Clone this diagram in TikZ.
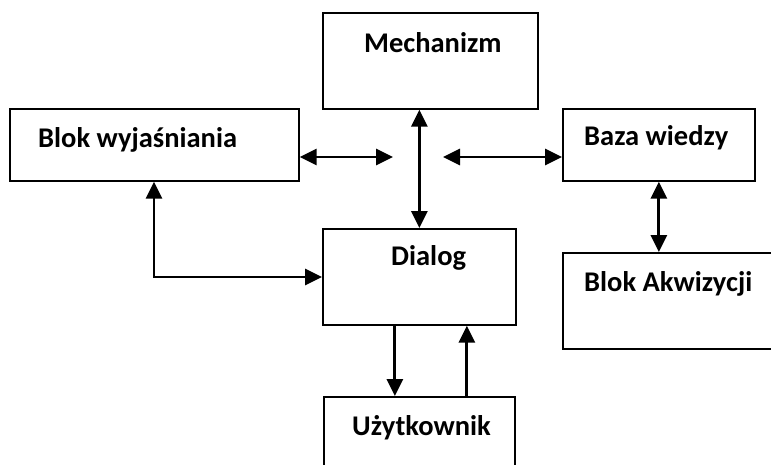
\documentclass[tikz,border=0pt]{standalone}
\usepackage{fontspec}
\setmainfont{Carlito}
\usetikzlibrary{arrows.meta}
\begin{document}
\begin{tikzpicture}[x=1pt,y=-1pt,
  block/.style={draw=black,line width=1.7pt,fill=none,inner sep=0pt,anchor=north west},
  caption/.style={inner sep=0pt,anchor=base west,font=\fontsize{28.5}{34}\selectfont\bfseries},
  tip/.tip={Triangle[length=17pt,width=16pt]},
  link/.style={line width=2.8pt,-tip},
  dlink/.style={line width=2.8pt,tip-tip}]
\clip (0,0) rectangle (771,464);
\fill[white] (0,0) rectangle (771,464);

% boxes
\node[block,minimum width=215pt,minimum height=96pt] (mech) at (322,12) {};
\node[block,minimum width=289pt,minimum height=72pt] (bw) at (9,108) {};
\node[block,minimum width=192pt,minimum height=72pt] (baza) at (562,108) {};
\node[block,minimum width=193pt,minimum height=96pt] (dlg) at (322,228) {};
\node[block,minimum width=230pt,minimum height=96pt] (akw) at (562,252) {};
\node[block,minimum width=191pt,minimum height=90pt] (user) at (323,396) {};

% captions
\node[caption] (tmech) at (364,52) {Mechanizm};
\node[caption] (tbw) at (38,147) {Blok wyjaśniania};
\node[caption] (tbaza) at (584,145) {Baza wiedzy};
\node[caption] (tdlg) at (391,265) {Dialog};
\node[caption] (takw) at (584,291) {Blok Akwizycji};
\node[caption] (tuser) at (352,435) {Użytkownik};

% free ends of the horizontal links
\coordinate (hl) at (393,157);
\coordinate (hr) at (443,157);
\coordinate (elbow) at (154,277);

% connectors
\draw[dlink] (bw.east |- hl) -- (hl);
\draw[dlink] (hr) -- (baza.west |- hr);
\draw[dlink] (dlg.north |- mech.south) -- (dlg.north);
\draw[dlink] (baza.south) -- (baza.south |- akw.north);
\draw[dlink] (bw.south -| elbow) -- (elbow) -- (dlg.west |- elbow);
\draw[link] ([xshift=-24.5pt]dlg.south) -- ([xshift=-24.5pt]dlg.south |- user.north);
\draw[link] ([xshift=47.5pt]dlg.south |- user.north) -- ([xshift=47.5pt]dlg.south);
\end{tikzpicture}
\end{document}
